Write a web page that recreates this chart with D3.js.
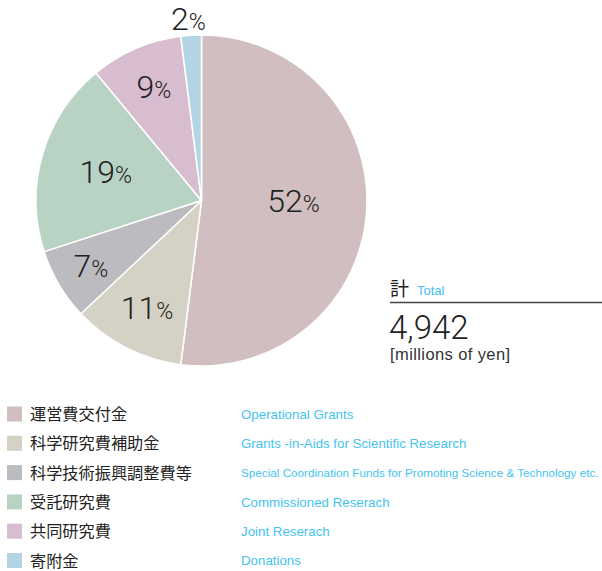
<!DOCTYPE html>
<html>
<head>
<meta charset="utf-8">
<script src="https://cdn.jsdelivr.net/npm/d3@7/dist/d3.min.js"></script>
<style>
  html, body { margin: 0; padding: 0; background: #fff; }
  svg { display: block; }
</style>
</head>
<body>
<svg id="chart" width="602" height="571"></svg>
<script>
// Income breakdown (percent of total)
const categoriesJa = ["運営費交付金", "科学研究費補助金", "科学技術振興調整費等", "受託研究費", "共同研究費", "寄附金"];
const categoriesEn = ["Operational Grants", "Grants -in-Aids for Scientific Research",
  "Special Coordination Funds for Promoting Science & Technology etc.", "Commissioned Reserach",
  "Joint Reserach", "Donations"];
const shares = [52, 11, 7, 19, 9, 2];
const totalValue = "4,942";
const totalUnit = "[millions of yen]";

const colors = ["#d1bec1", "#d4d2c4", "#bbbbc0", "#b8d3c3", "#d8bcd0", "#b3d4e3"];
// label placement: distance from the centre (fraction of the radius)
// and a small turn (degrees) away from the slice's middle angle
const labelRadius = [0.556, 0.724, 0.776, 0.604, 0.744, 1.102];
const labelTurn = [-3.6, 0, 0, 0.5, 0.7, -0.5];

const W = 602;
const svg = d3.select("#chart");
const cx = 201.5, cy = 200.5, R = 165.5;

const pie = d3.pie().sort(null).value(d => d)(shares);
const arc = d3.arc().innerRadius(0).outerRadius(R);

const g = svg.append("g").attr("transform", `translate(${cx},${cy})`);
g.selectAll("path.slice")
  .data(pie)
  .join("path")
  .attr("class", "slice")
  .attr("d", arc)
  .attr("fill", (d, i) => colors[i])
  .attr("stroke", "#fff")
  .attr("stroke-width", 1.5)
  .attr("stroke-linejoin", "round");

// percentage labels
const numFont = "Roboto, 'Liberation Sans', sans-serif";
g.selectAll("text.pct")
  .data(pie)
  .join("text")
  .attr("class", "pct")
  .attr("transform", (d, i) => {
    const a = (d.startAngle + d.endAngle) / 2 + labelTurn[i] * Math.PI / 180;
    const p = d3.pointRadial(a, R * labelRadius[i]);
    return `translate(${p[0]},${p[1]})`;
  })
  .attr("text-anchor", "middle")
  .attr("dy", "0.355em")
  .attr("font-size", 32)
  .attr("fill", "#222")
  .attr("font-family", numFont)
  .attr("font-weight", 300)
  .each(function(d, i) {
    const t = d3.select(this);
    t.append("tspan").text(shares[i]);
    t.append("tspan").attr("font-size", 23).text("%");
  });

// total block
const latin = "'Liberation Sans', Arial, sans-serif";
const tot = svg.append("g").attr("transform", "translate(390,0)");
tot.append("text").attr("x", 0).attr("y", 296)
  .attr("font-family", "'Noto Sans CJK JP', sans-serif").attr("font-size", 19)
  .attr("fill", "#222").text("計");
tot.append("text").attr("x", 27).attr("y", 295)
  .attr("font-family", latin).attr("font-size", 13)
  .attr("fill", "#45c3ef").text("Total");
tot.append("line").attr("x1", 0).attr("x2", W - 390).attr("y1", 302.5).attr("y2", 302.5)
  .attr("stroke", "#444").attr("stroke-width", 1.3);
tot.append("text").attr("x", -1).attr("y", 338.5)
  .attr("font-family", numFont).attr("font-weight", 300).attr("font-size", 33)
  .attr("fill", "#222").text(totalValue);
tot.append("text").attr("x", 0).attr("y", 360)
  .attr("font-family", latin).attr("font-size", 16.5).attr("letter-spacing", 0.4)
  .attr("fill", "#333").text(totalUnit);

// legend
const rowY = d3.scalePoint().domain(d3.range(categoriesJa.length)).range([414, 560.5]);
const leg = svg.append("g");
const rows = leg.selectAll("g.row").data(categoriesJa).join("g")
  .attr("class", "row")
  .attr("transform", (d, i) => `translate(0,${rowY(i)})`);
rows.append("rect").attr("x", 7).attr("y", -7.5).attr("width", 15).attr("height", 15)
  .attr("fill", (d, i) => colors[i]);
rows.append("text").attr("x", 30).attr("dy", "0.37em")
  .attr("font-family", "'Noto Sans CJK JP', sans-serif").attr("font-size", 16.2)
  .attr("fill", "#222").text(d => d);
const enX = 241, enSize = 13.3;
rows.append("text").attr("x", enX).attr("dy", "0.36em")
  .attr("font-family", latin).attr("font-size", enSize)
  .attr("fill", "#45c3ef").text((d, i) => categoriesEn[i])
  .each(function() {
    // shrink the longest caption so it stays inside the page
    const room = W - enX - 3;
    const len = this.getComputedTextLength();
    if (len > room) d3.select(this).attr("font-size", enSize * room / len);
  });
</script>
</body>
</html>
